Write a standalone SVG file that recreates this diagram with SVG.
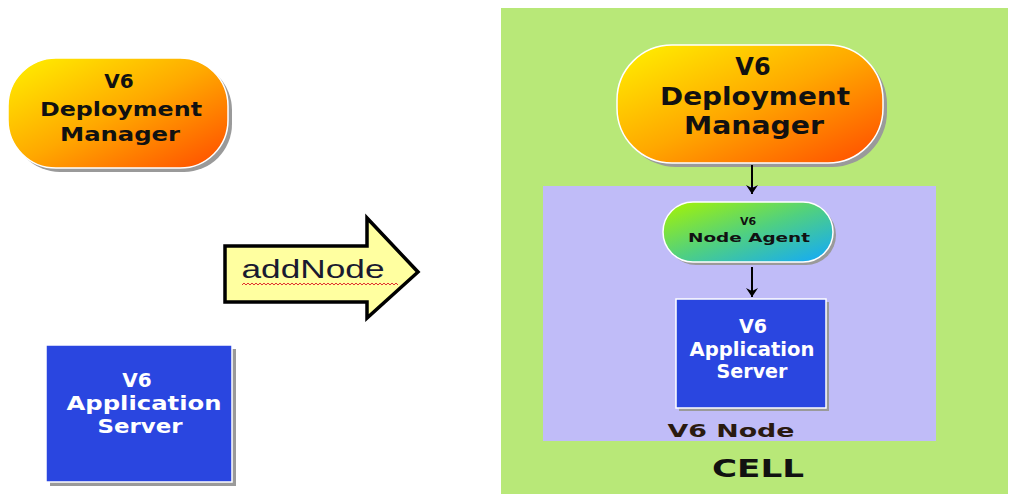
<svg xmlns="http://www.w3.org/2000/svg" width="1010" height="495" viewBox="0 0 1010 495">
<defs>
  <linearGradient id="dmGrad" x1="0" y1="0" x2="1" y2="1">
    <stop offset="0" stop-color="#fff200"/>
    <stop offset="0.5" stop-color="#ffa800"/>
    <stop offset="1" stop-color="#ff4a00"/>
  </linearGradient>
  <linearGradient id="naGrad" x1="0" y1="0" x2="1" y2="1">
    <stop offset="0" stop-color="#a8f400"/>
    <stop offset="0.5" stop-color="#50d080"/>
    <stop offset="1" stop-color="#10a8ff"/>
  </linearGradient>
  <marker id="arr" viewBox="0 0 12 12" refX="11" refY="6" markerWidth="12" markerHeight="12" markerUnits="userSpaceOnUse" orient="auto">
    <path d="M2,0 L11,6 L2,12 L5,6 Z" fill="#000"/>
  </marker>
</defs>
<style>
  .t { font-family: "DejaVu Sans", "Liberation Sans", sans-serif; font-weight: bold; text-anchor: middle; }
  .dark { fill: #111; }
  .white { fill: #fff; }
  .shadow { fill: #9a9a9a; }
  .box { fill: #2a46e0; stroke: #fff; stroke-width: 1.5; }
  .conn { stroke: #000; stroke-width: 2; fill: none; marker-end: url(#arr); }
</style>
<rect x="0" y="0" width="1010" height="495" fill="#fff"/>

<g id="cell">
  <rect x="501" y="8" width="507" height="486" fill="#b8e878"/>
  <text class="t dark" x="758" y="477" font-size="25" textLength="92" lengthAdjust="spacingAndGlyphs">CELL</text>
</g>

<g id="v6node">
  <rect x="543" y="186" width="393" height="255" fill="#c0bcf8"/>
  <text class="t" x="731" y="437" font-size="17" fill="#2a1a10" textLength="127" lengthAdjust="spacingAndGlyphs">V6 Node</text>
</g>

<g id="dm-left">
  <rect x="12" y="62" width="220" height="110" rx="48" ry="48" class="shadow"/>
  <rect x="8" y="58" width="220" height="110" rx="48" ry="48" fill="url(#dmGrad)" stroke="#fff" stroke-width="1.5"/>
  <text class="t dark" x="119" y="88" font-size="20">V6</text>
  <text class="t dark" x="121" y="116" font-size="20" textLength="162" lengthAdjust="spacingAndGlyphs">Deployment</text>
  <text class="t dark" x="120" y="141" font-size="20" textLength="120" lengthAdjust="spacingAndGlyphs">Manager</text>
</g>

<g id="as-left">
  <rect x="50" y="349" width="186" height="137" class="shadow"/>
  <rect x="46" y="345" width="186" height="137" class="box"/>
  <text class="t white" x="137" y="387" font-size="20">V6</text>
  <text class="t white" x="144" y="410" font-size="20" textLength="155" lengthAdjust="spacingAndGlyphs">Application</text>
  <text class="t white" x="140" y="433" font-size="20" textLength="85" lengthAdjust="spacingAndGlyphs">Server</text>
</g>

<g id="addnode">
  <path d="M225,246 L367,246 L367,218 L418,272 L367,318 L367,302 L225,302 Z" fill="#ffffa0" stroke="#000" stroke-width="3.5" stroke-linejoin="miter"/>
  <text x="313" y="278" font-family="Liberation Sans, Arial, sans-serif" font-size="25" fill="#1a1a30" text-anchor="middle" textLength="143" lengthAdjust="spacingAndGlyphs">addNode</text>
  <path d="M242,285 l2,-2 l2,2 l2,-2 l2,2 l2,-2 l2,2 l2,-2 l2,2 l2,-2 l2,2 l2,-2 l2,2 l2,-2 l2,2 l2,-2 l2,2 l2,-2 l2,2 l2,-2 l2,2 l2,-2 l2,2 l2,-2 l2,2 l2,-2 l2,2 l2,-2 l2,2 l2,-2 l2,2 l2,-2 l2,2 l2,-2 l2,2 l2,-2 l2,2 l2,-2 l2,2 l2,-2 l2,2 l2,-2 l2,2 l2,-2 l2,2 l2,-2 l2,2 l2,-2 l2,2 l2,-2 l2,2 l2,-2 l2,2 l2,-2 l2,2 l2,-2 l2,2 l2,-2 l2,2 l2,-2 l2,2 l2,-2 l2,2 l2,-2 l2,2 l2,-2 l2,2 l2,-2 l2,2 l2,-2 l2,2 l2,-2 l2,2 l2,-2 l2,2 l2,-2 l2,2 l2,-2 l2,2" fill="none" stroke="#e03030" stroke-width="1"/>
</g>

<g id="dm-right">
  <rect x="621" y="49" width="266" height="118" rx="55" ry="55" class="shadow"/>
  <rect x="617" y="45" width="266" height="118" rx="55" ry="55" fill="url(#dmGrad)" stroke="#fff" stroke-width="1.5"/>
  <text class="t dark" x="753" y="75" font-size="24">V6</text>
  <text class="t dark" x="755" y="105" font-size="24" textLength="190" lengthAdjust="spacingAndGlyphs">Deployment</text>
  <text class="t dark" x="754" y="134" font-size="24" textLength="140" lengthAdjust="spacingAndGlyphs">Manager</text>
</g>

<g id="node-agent">
  <rect x="666" y="205" width="170" height="60" rx="30" ry="30" class="shadow"/>
  <rect x="663" y="202" width="170" height="60" rx="30" ry="30" fill="url(#naGrad)" stroke="#fff" stroke-width="1.5"/>
  <text class="t dark" x="748" y="225" font-size="11">V6</text>
  <text class="t dark" x="749" y="242" font-size="13" textLength="122" lengthAdjust="spacingAndGlyphs">Node Agent</text>
</g>

<g id="as-right">
  <rect x="679" y="302" width="150" height="109" class="shadow"/>
  <rect x="676" y="299" width="150" height="109" class="box"/>
  <text class="t white" x="753" y="333" font-size="19">V6</text>
  <text class="t white" x="752" y="356" font-size="19" textLength="125" lengthAdjust="spacingAndGlyphs">Application</text>
  <text class="t white" x="752" y="378" font-size="19" textLength="71" lengthAdjust="spacingAndGlyphs">Server</text>
</g>

<g id="connectors">
  <line class="conn" x1="752" y1="165" x2="752" y2="194"/>
  <line class="conn" x1="752" y1="267" x2="752" y2="297"/>
</g>
</svg>
